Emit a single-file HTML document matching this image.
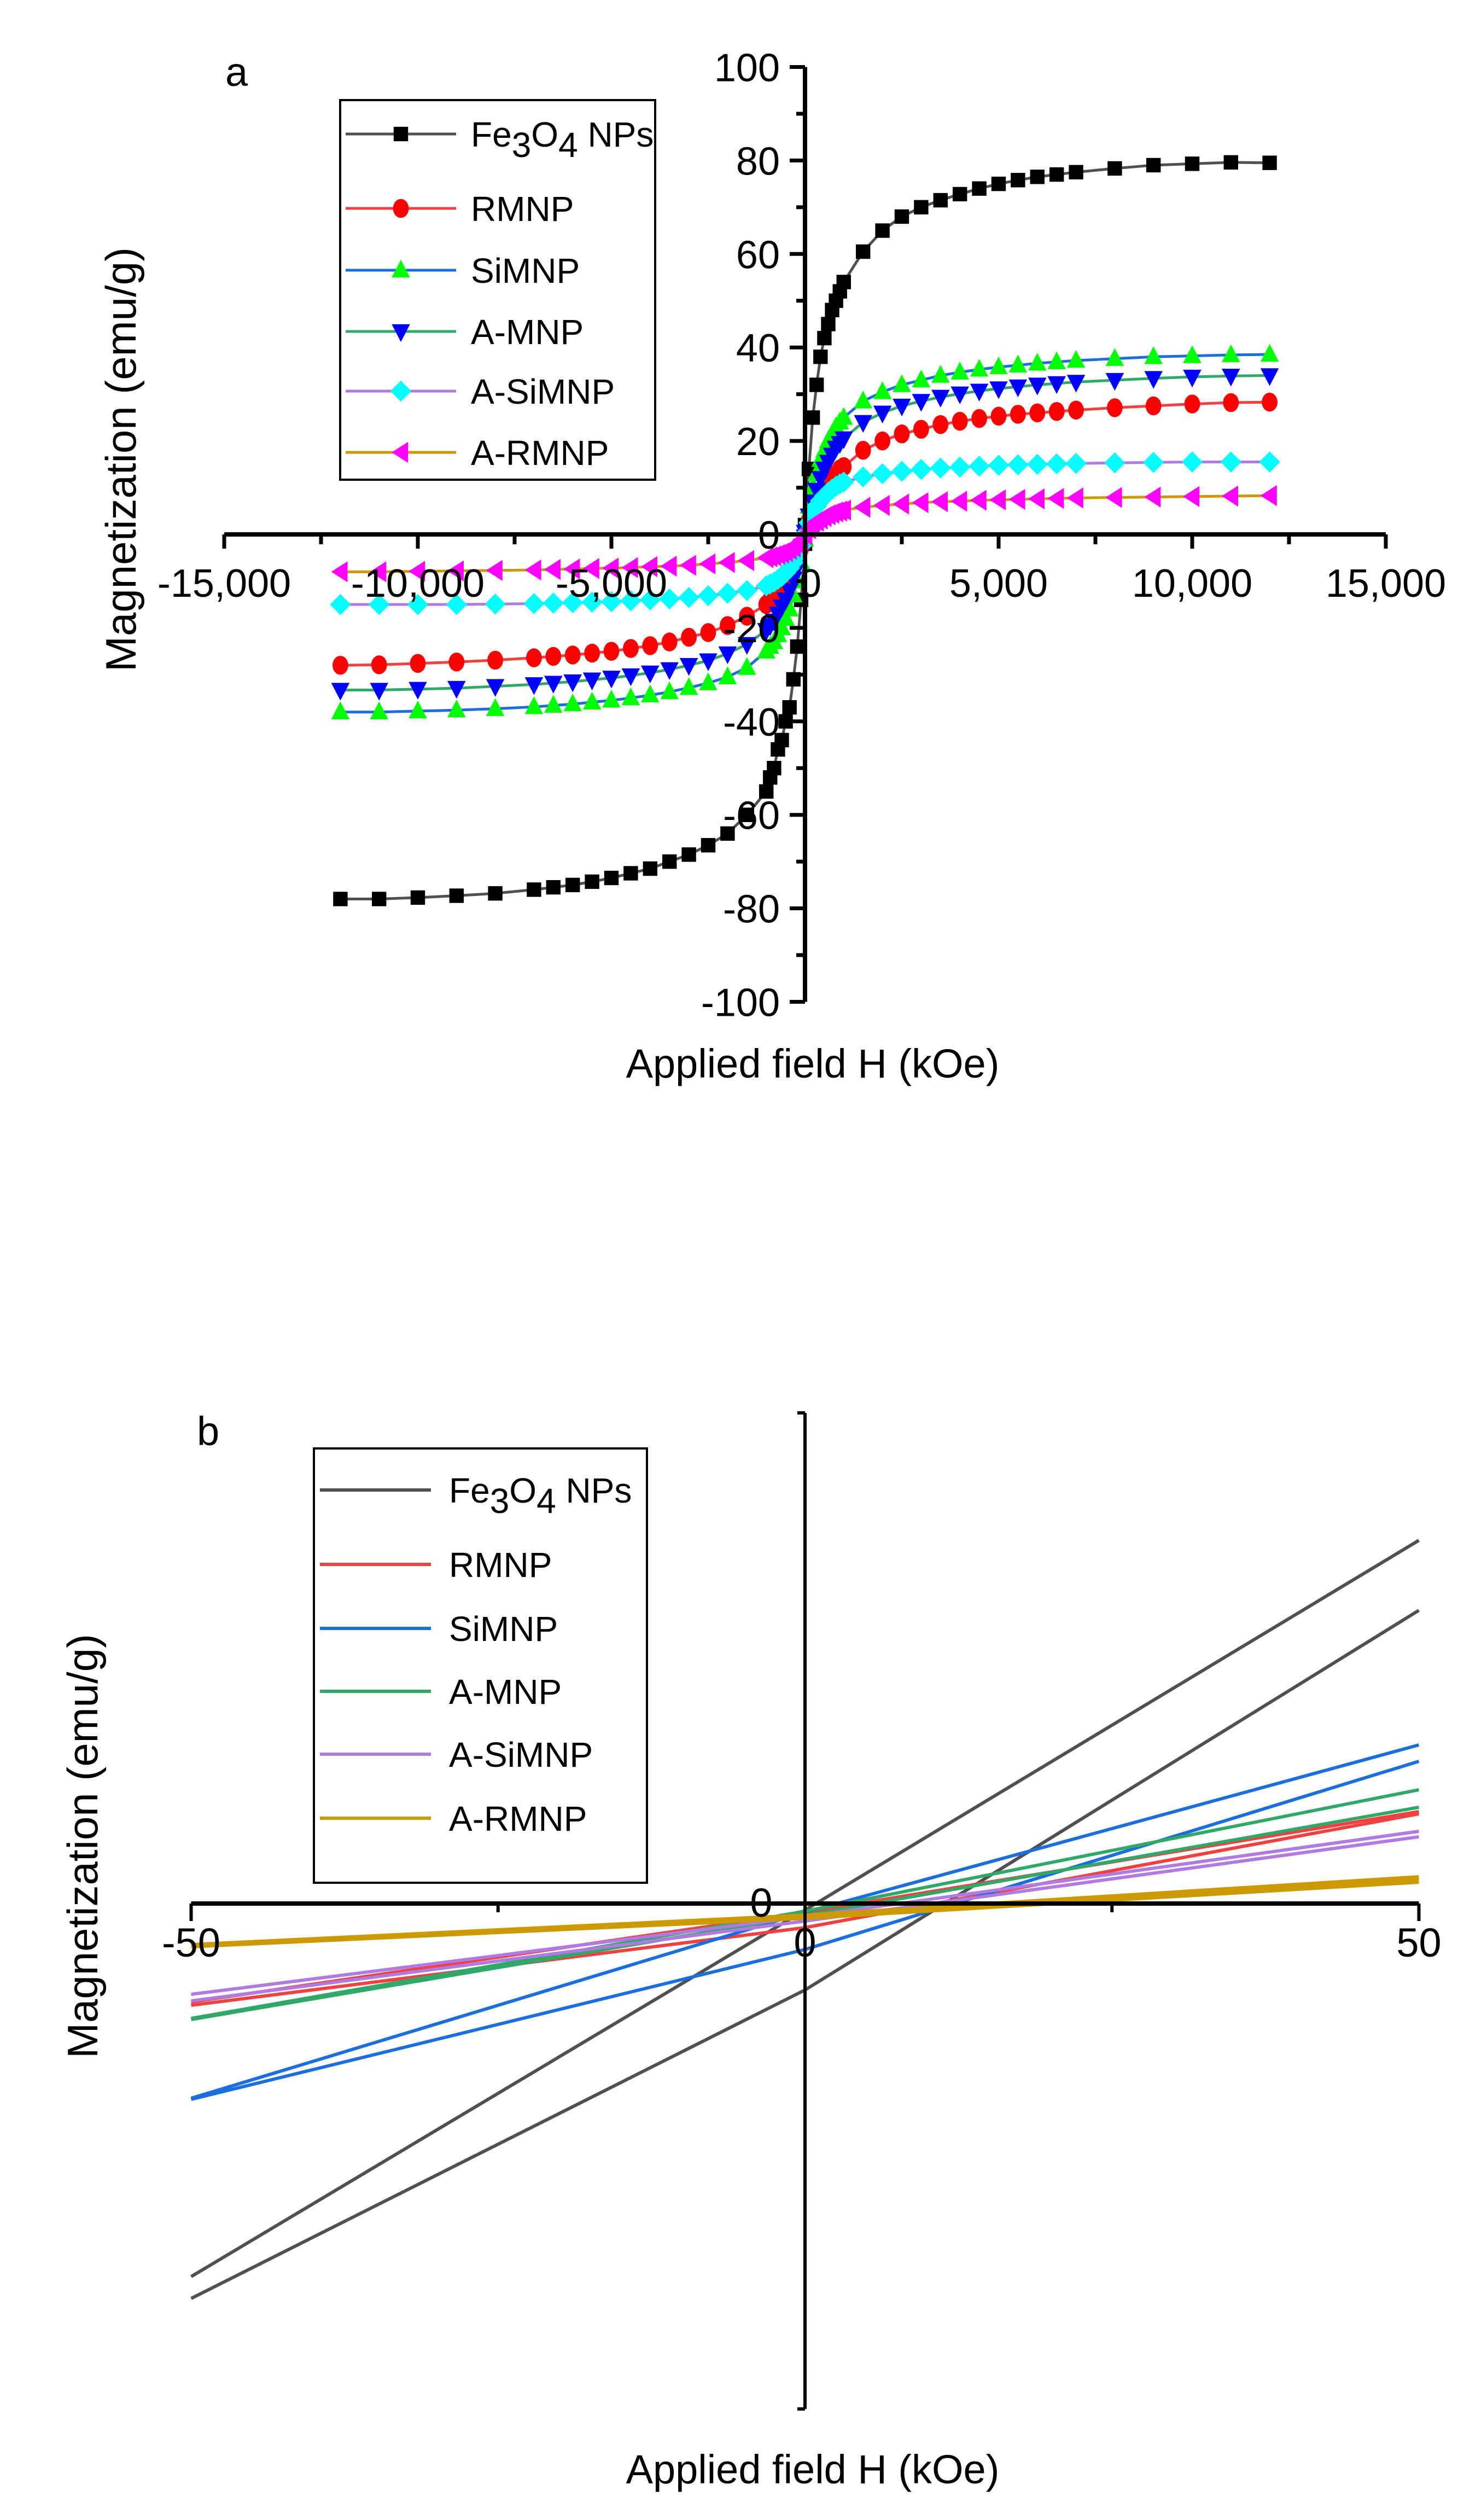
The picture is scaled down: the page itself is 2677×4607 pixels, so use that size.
<!DOCTYPE html>
<html><head><meta charset="utf-8"><style>
html,body{margin:0;padding:0;background:#fff}
svg{display:block}
text{font-family:"Liberation Sans",Arial,sans-serif;fill:#000}
</style></head><body>
<svg id="chart" width="2677" height="4607" viewBox="0 0 2677 4607" xmlns="http://www.w3.org/2000/svg"></svg>
<script>
// ---------- Panel a data ----------
const fieldPos = [0,100,200,300,400,500,600,700,800,900,1000,1500,2000,2500,3000,3500,4000,4500,5000,5500,6000,6500,7000,8000,9000,10000,11000,12000];
const feUp   = [2,14,25,32,38,42,45,48,50,52,54,60.5,65,68,70,71.5,72.8,74,75,75.8,76.5,77,77.5,78.3,79,79.3,79.6,79.5];
const feDown = [-2,-14,-24,-31,-37,-40,-44,-46,-50,-52,-55,-60,-64,-66.5,-68.5,-70,-71.5,-72.5,-73.5,-74.3,-75,-75.5,-76,-76.8,-77.3,-77.7,-78,-78];
const rmnpUp   = [0,3,5,7,8.5,10,11,12,13,14,14.5,18,20,21.5,22.5,23.5,24.2,24.8,25.3,25.7,26,26.3,26.6,27.1,27.5,27.9,28.2,28.3];
const rmnpDown = [0,-3,-5,-7,-8.5,-10,-11,-12,-13,-14,-15,-17.5,-19.5,-21,-22,-23,-23.8,-24.4,-25,-25.4,-25.8,-26.1,-26.4,-26.9,-27.3,-27.6,-27.9,-28];
const simnpUp   = [1,6,10,13,16,18,20,21.5,23,24,25,28.5,30.5,32,33,34,34.7,35.3,35.8,36.2,36.6,36.9,37.2,37.6,38,38.2,38.4,38.5];
const simnpDown = [-1,-6,-10,-13,-16,-18,-20,-21.5,-23,-24,-25,-28.5,-30.5,-31.8,-32.8,-33.7,-34.4,-35,-35.5,-35.9,-36.3,-36.6,-36.9,-37.3,-37.6,-37.8,-38,-38];
const amnpUp   = [0.5,4,7,9.5,12,14,15.5,17,18.5,19.5,20.5,24,26,27.5,28.5,29.4,30.1,30.7,31.2,31.6,32,32.3,32.6,33,33.4,33.7,33.9,34];
const amnpDown = [-0.5,-4,-7,-9.5,-12,-14,-15.5,-17,-18.5,-19.5,-20.5,-23.5,-25.5,-27,-28,-28.9,-29.6,-30.2,-30.7,-31.1,-31.5,-31.8,-32.1,-32.5,-32.9,-33.1,-33.3,-33.3];
const asimnpUp   = [0,2.5,4.5,6,7.2,8.2,9,9.7,10.3,10.8,11.2,12.3,13,13.5,13.9,14.2,14.4,14.6,14.8,14.9,15,15.1,15.2,15.3,15.4,15.5,15.5,15.5];
const asimnpDown = [0,-2.5,-4.5,-6,-7.2,-8.2,-9,-9.6,-10.2,-10.6,-11,-12,-12.6,-13.1,-13.5,-13.8,-14,-14.2,-14.4,-14.5,-14.6,-14.7,-14.8,-14.9,-15,-15,-15,-15];
const armnpUp   = [0,1.2,2,2.8,3.3,3.8,4.2,4.5,4.8,5,5.2,5.8,6.2,6.5,6.8,7,7.1,7.3,7.4,7.5,7.6,7.7,7.8,7.9,8,8.1,8.2,8.3];
const armnpDown = [0,-1.2,-2,-2.7,-3.2,-3.7,-4,-4.3,-4.6,-4.8,-5,-5.6,-6,-6.3,-6.6,-6.8,-6.9,-7.1,-7.2,-7.3,-7.4,-7.5,-7.6,-7.7,-7.8,-7.9,-8,-8];
const seriesNames = ["Fe3O4 NPs","RMNP","SiMNP","A-MNP","A-SiMNP","A-RMNP"];
const xTicksA = [-15000,-10000,-5000,0,5000,10000,15000];
const xTickLabelsA = ["-15,000","-10,000","-5,000","0","5,000","10,000","15,000"];
const yTicksA = [-100,-80,-60,-40,-20,0,20,40,60,80,100];

// ---------- Panel b data ----------
const fieldB = [-50,0,50];
const feB1 = [-34.1,-0.6,33.2];
const feB2 = [-36.1,-7.9,26.8];
const rmnpB1 = [-9.0,-0.8,8.4];
const rmnpB2 = [-9.3,-2.2,8.2];
const simnpB1 = [-17.8,-0.8,14.5];
const simnpB2 = [-17.9,-4.2,13.0];
const amnpB1 = [-10.5,-0.7,10.4];
const amnpB2 = [-10.6,-1.1,8.8];
const asimnpB1 = [-8.3,-1.2,6.6];
const asimnpB2 = [-8.9,-1.6,6.1];
const armnpB1 = [-3.8,-1.1,2.4];
const armnpB2 = [-3.9,-1.3,2.0];

const NS="http://www.w3.org/2000/svg";
const svg=document.getElementById('chart');
function el(tag,attrs,parent){const e=document.createElementNS(NS,tag);for(const k in attrs)e.setAttribute(k,attrs[k]);(parent||svg).appendChild(e);return e;}

const lineColors=["#505050","#f04040","#1a6ee0","#30a868","#b07ae0","#cc9900"];
const markerColors=["#000000","#ff0000","#00ff00","#0000ff","#00ffff","#ff00ff"];
const markerShapes=["square","circle","up","down","diamond","left"];

function marker(g,shape,cx,cy,c,s){
  let e;
  if(shape==="square") e=el('rect',{x:cx-s*0.55,y:cy-s*0.55,width:s*1.1,height:s*1.1,fill:c},g);
  else if(shape==="circle") e=el('ellipse',{cx:cx,cy:cy,rx:s*0.6,ry:s*0.72,fill:c},g);
  else {
    let p;
    if(shape==="up") p=[[cx,cy-s*0.8],[cx+s*0.7,cy+s*0.55],[cx-s*0.7,cy+s*0.55]];
    else if(shape==="down") p=[[cx,cy+s*0.8],[cx+s*0.7,cy-s*0.55],[cx-s*0.7,cy-s*0.55]];
    else if(shape==="diamond") p=[[cx,cy-s*0.8],[cx+s*0.8,cy],[cx,cy+s*0.8],[cx-s*0.8,cy]];
    else p=[[cx-s*0.7,cy],[cx+s*0.55,cy-s*0.8],[cx+s*0.55,cy+s*0.8]];
    e=el('polygon',{points:p.map(q=>q.join(',')).join(' '),fill:c},g);
  }
  
  
  return e;
}

// ===== Panel A =====
const ax={x0:1472,y0:977,sx:(2536-412)/30000,sy:(1830-121)/200};
const xA=v=>ax.x0+v*ax.sx, yA=v=>ax.y0-v*ax.sy;
const gA=el('g',{});



const seriesA=[[feUp,feDown],[rmnpUp,rmnpDown],[simnpUp,simnpDown],[amnpUp,amnpDown],[asimnpUp,asimnpDown],[armnpUp,armnpDown]];
const plotA=el('g',{},gA);


seriesA.forEach((s,i)=>{
  const pts=[];
  for(let k=fieldPos.length-1;k>=0;k--) pts.push([xA(-fieldPos[k]),yA(s[1][k])]);
  for(let k=0;k<fieldPos.length;k++) pts.push([xA(fieldPos[k]),yA(s[0][k])]);
  const pl=el('polyline',{points:pts.map(p=>p.join(',')).join(' '),fill:'none',stroke:lineColors[i],'stroke-width':5,'stroke-linejoin':'round'},plotA);
  
  
});
seriesA.forEach((s,i)=>{
  const g=el('g',{},plotA);
  
  
  for(let k=0;k<fieldPos.length;k++){
    marker(g,markerShapes[i],xA(fieldPos[k]),yA(s[0][k]),markerColors[i],24);
    marker(g,markerShapes[i],xA(-fieldPos[k]),yA(s[1][k]),markerColors[i],24);
  }
});
const axA=el('line',{x1:xA(-15000),y1:ax.y0,x2:xA(15000),y2:ax.y0,stroke:'#000','stroke-width':8},gA);


const ayA=el('line',{x1:ax.x0,y1:yA(100),x2:ax.x0,y2:yA(-100),stroke:'#000','stroke-width':8},gA);


for(let v=-15000;v<=15000;v+=2500){
  const major=v%5000===0;
  const t=el('line',{x1:xA(v),y1:ax.y0,x2:xA(v),y2:ax.y0+(major?26:18),stroke:'#000','stroke-width':7},gA);
  
  
}
xTicksA.forEach((v,i)=>{
  const t=el('text',{x:xA(v)+(v===0?10:0),y:ax.y0+114,'font-size':72,'text-anchor':'middle'},gA);
  t.textContent=xTickLabelsA[i];
  
  
});
for(let v=-100;v<=100;v+=10){
  const major=v%20===0;
  const t=el('line',{x1:ax.x0,y1:yA(v),x2:ax.x0-(major?28:16),y2:yA(v),stroke:'#000','stroke-width':7},gA);
  
  
}
yTicksA.forEach(v=>{
  const t=el('text',{x:ax.x0-46,y:yA(v)+26,'font-size':72,'text-anchor':'end'},gA);
  t.textContent=String(v);
  
  
});
let t;
t=el('text',{x:412,y:157,'font-size':74},gA);t.textContent='a';


t=el('text',{x:1486,y:1970,'font-size':74,'text-anchor':'middle'},gA);t.textContent='Applied field H (kOe)';


t=el('text',{x:0,y:0,'font-size':78,'text-anchor':'middle',transform:'translate(248,840) rotate(-90)'},gA);t.textContent='Magnetization (emu/g)';



function legend(parent,box,rows,lineX1,lineX2,textX,withMarkers,lw){
  const g=el('g',{},parent);
  
  
  const r=el('rect',{x:box[0],y:box[1],width:box[2],height:box[3],fill:'#fff',stroke:'#000','stroke-width':4},g);
  
  
  rows.forEach((ry,i)=>{
    const e=el('g',{},g);
    
    
    el('line',{x1:lineX1,y1:ry,x2:lineX2,y2:ry,stroke:lineColors[i],'stroke-width':lw},e);
    if(withMarkers) marker(e,markerShapes[i],(lineX1+lineX2)/2,ry,markerColors[i],24);
    const tx=el('text',{x:textX,y:ry+23,'font-size':64},e);
    if(i===0){tx.innerHTML='Fe<tspan baseline-shift="-30%" font-size="64">3</tspan>O<tspan baseline-shift="-30%" font-size="64">4</tspan> NPs';}
    else tx.textContent=seriesNames[i];
  });
}
legend(gA,[622,183,576,694],[245,381,494,606,715,827],632,834,861,true,5);

// ===== Panel B =====
const bx={x0:1472,y0:3480,sx:(2595-350)/100,sy:20};
const xB=v=>bx.x0+v*bx.sx, yB=v=>bx.y0-v*bx.sy;
const gB=el('g',{});


const seriesB=[[feB1,feB2],[rmnpB1,rmnpB2],[simnpB1,simnpB2],[amnpB1,amnpB2],[asimnpB1,asimnpB2],[armnpB1,armnpB2]];
const plotB=el('g',{},gB);


seriesB.forEach((s,i)=>{
  s.forEach(arr=>{
    const pts=fieldB.map((h,k)=>[xB(h),yB(arr[k])]);
    const pl=el('polyline',{points:pts.map(p=>p.join(',')).join(' '),fill:'none',stroke:lineColors[i],'stroke-width':i===5?8:6},plotB);
    
    
  });
});
const axB=el('line',{x1:xB(-50),y1:bx.y0,x2:xB(50),y2:bx.y0,stroke:'#000','stroke-width':8},gB);


const ayB=el('line',{x1:bx.x0,y1:2583,x2:bx.x0,y2:4404,stroke:'#000','stroke-width':6},gB);


[2583,4404].forEach(yy=>{const k=el('line',{x1:bx.x0-14,y1:yy,x2:bx.x0,y2:yy,stroke:'#000','stroke-width':6},gB);

});
[-50,-25,0,25,50].forEach(v=>{
  const major=v%50===0;
  const k=el('line',{x1:xB(v),y1:bx.y0,x2:xB(v),y2:bx.y0+(major?32:16),stroke:'#000','stroke-width':6},gB);
  
  
});
[-50,0,50].forEach(v=>{
  const k=el('text',{x:xB(v),y:bx.y0+97,'font-size':74,'text-anchor':'middle'},gB);k.textContent=String(v);
  
  
});
t=el('text',{x:1392,y:3504,'font-size':74,'text-anchor':'middle'},gB);t.textContent='0';


t=el('text',{x:360,y:2642,'font-size':74},gB);t.textContent='b';


t=el('text',{x:1486,y:4540,'font-size':74,'text-anchor':'middle'},gB);t.textContent='Applied field H (kOe)';


t=el('text',{x:0,y:0,'font-size':78,'text-anchor':'middle',transform:'translate(178,3375) rotate(-90)'},gB);t.textContent='Magnetization (emu/g)';


legend(gB,[574,2648,609,794],[2724,2860,2977,3092,3207,3324],585,788,821,false,6);
</script>
</body></html>
